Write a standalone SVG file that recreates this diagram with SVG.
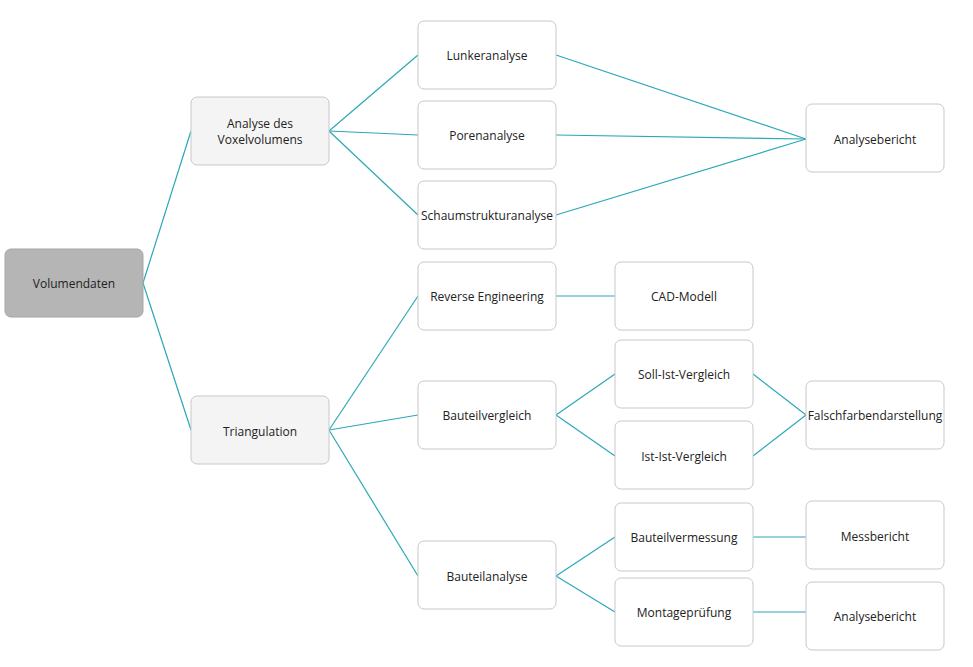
<svg xmlns="http://www.w3.org/2000/svg" width="973" height="667" viewBox="0 0 973 667">
<style>
.n rect{fill:#ffffff;stroke:#c8c8c8;stroke-width:1}
.g rect{fill:#f4f4f4}
.root rect{fill:#b5b5b5;stroke:#a5a5a5}
text{font-family:"Open Sans","Noto Sans",sans-serif;font-size:12px;fill:#222;text-anchor:middle;dominant-baseline:central}
.c line{stroke:#2aa8b8;stroke-width:1.2}
</style>
<rect width="973" height="667" fill="#ffffff"/>
<g class="c">
<line x1="143" y1="283" x2="191" y2="131"/>
<line x1="143" y1="283" x2="191" y2="430"/>
<line x1="329" y1="131" x2="418" y2="55"/>
<line x1="329" y1="131" x2="418" y2="135"/>
<line x1="329" y1="131" x2="418" y2="215"/>
<line x1="556" y1="55" x2="806" y2="139"/>
<line x1="556" y1="135" x2="806" y2="139"/>
<line x1="556" y1="215" x2="806" y2="139"/>
<line x1="329" y1="430" x2="418" y2="296"/>
<line x1="329" y1="430" x2="418" y2="415"/>
<line x1="329" y1="430" x2="418" y2="576"/>
<line x1="556" y1="296" x2="615" y2="296"/>
<line x1="556" y1="415" x2="615" y2="374"/>
<line x1="556" y1="415" x2="615" y2="456"/>
<line x1="753" y1="374" x2="806" y2="415"/>
<line x1="753" y1="456" x2="806" y2="415"/>
<line x1="556" y1="576" x2="615" y2="537"/>
<line x1="556" y1="576" x2="615" y2="612"/>
<line x1="753" y1="537" x2="806" y2="537"/>
<line x1="753" y1="612" x2="806" y2="612"/>
</g>
<g id="volumendaten" class="n root"><rect x="5" y="249" width="138" height="68" rx="6"/><text x="74" y="283">Volumendaten</text></g>
<g id="analyse-voxel" class="n g"><rect x="191" y="97" width="138" height="68" rx="6"/><text x="260" y="123">Analyse des</text><text x="260" y="139">Voxelvolumens</text></g>
<g id="triangulation" class="n g"><rect x="191" y="396" width="138" height="68" rx="6"/><text x="260" y="431">Triangulation</text></g>
<g id="lunker" class="n"><rect x="418" y="21" width="138" height="68" rx="6"/><text x="487" y="55">Lunkeranalyse</text></g>
<g id="poren" class="n"><rect x="418" y="101" width="138" height="68" rx="6"/><text x="487" y="135">Porenanalyse</text></g>
<g id="schaum" class="n"><rect x="418" y="181" width="138" height="68" rx="6"/><text x="487" y="215">Schaumstrukturanalyse</text></g>
<g id="analysebericht1" class="n"><rect x="806" y="104" width="138" height="68" rx="6"/><text x="875" y="139">Analysebericht</text></g>
<g id="reverse" class="n"><rect x="418" y="262" width="138" height="68" rx="6"/><text x="487" y="296">Reverse Engineering</text></g>
<g id="cad" class="n"><rect x="615" y="262" width="138" height="68" rx="6"/><text x="684" y="296">CAD-Modell</text></g>
<g id="bauteilvergleich" class="n"><rect x="418" y="381" width="138" height="68" rx="6"/><text x="487" y="415">Bauteilvergleich</text></g>
<g id="soll-ist" class="n"><rect x="615" y="340" width="138" height="68" rx="6"/><text x="684" y="374">Soll-Ist-Vergleich</text></g>
<g id="ist-ist" class="n"><rect x="615" y="421" width="138" height="68" rx="6"/><text x="684" y="456">Ist-Ist-Vergleich</text></g>
<g id="falschfarben" class="n"><rect x="806" y="381" width="138" height="68" rx="6"/><text x="875" y="415">Falschfarbendarstellung</text></g>
<g id="bauteilanalyse" class="n"><rect x="418" y="541" width="138" height="68" rx="6"/><text x="487" y="576">Bauteilanalyse</text></g>
<g id="bauteilvermessung" class="n"><rect x="615" y="503" width="138" height="68" rx="6"/><text x="684" y="537">Bauteilvermessung</text></g>
<g id="montage" class="n"><rect x="615" y="578" width="138" height="68" rx="6"/><text x="684" y="612">Montageprüfung</text></g>
<g id="messbericht" class="n"><rect x="806" y="501" width="138" height="68" rx="6"/><text x="875" y="536">Messbericht</text></g>
<g id="analysebericht2" class="n"><rect x="806" y="582" width="138" height="68" rx="6"/><text x="875" y="616">Analysebericht</text></g>
</svg>
